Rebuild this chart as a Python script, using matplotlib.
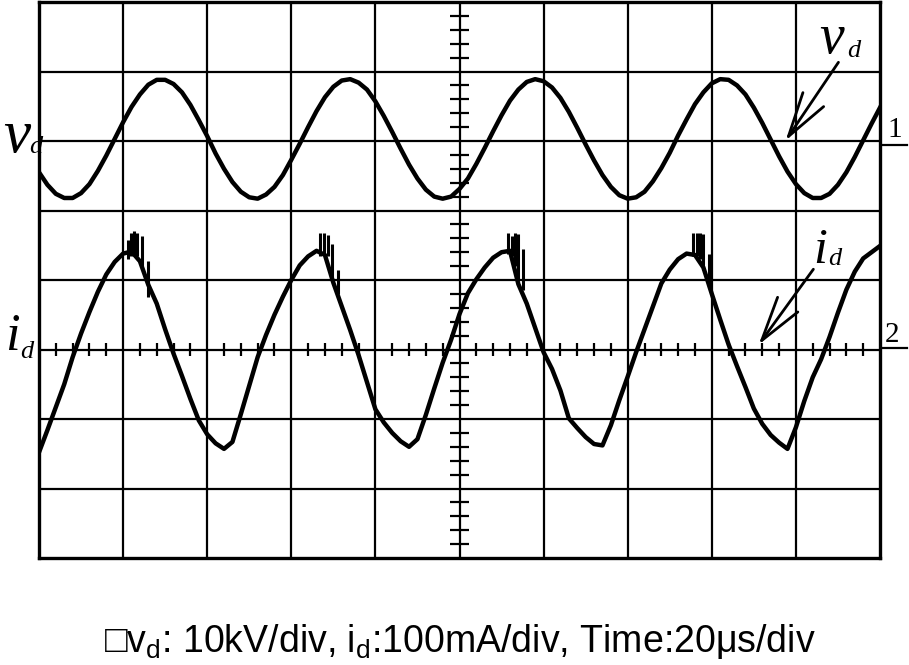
import numpy as np
import matplotlib
matplotlib.use("Agg")
from matplotlib import pyplot as plt
from matplotlib.lines import Line2D

# time axis, 20 us/div -> 10 divisions
t_us = np.arange(0, 201, 2)

# v_d in kV (10 kV/div), every 2 us
v_d = [-4.5, -6.3, -7.6, -8.2, -8.2, -7.5, -6.2, -4.3, -2.1, 0.3,
       2.7, 4.9, 6.7, 8.1, 8.8, 8.8, 8.2, 7.0, 5.2, 3.0,
       0.7, -1.8, -4.0, -5.9, -7.3, -8.1, -8.3, -7.7, -6.6, -4.9,
       -2.7, -0.4, 2.0, 4.3, 6.3, 7.8, 8.7, 8.9, 8.4, 7.4,
       5.7, 3.6, 1.3, -1.1, -3.4, -5.4, -7.0, -8.0, -8.3, -8.0,
       -6.9, -5.4, -3.3, -1.0, 1.4, 3.7, 5.8, 7.4, 8.5, 8.9,
       8.6, 7.7, 6.2, 4.2, 1.9, -0.5, -2.8, -4.9, -6.6, -7.8,
       -8.3, -8.1, -7.3, -5.8, -3.9, -1.7, 0.8, 3.1, 5.3, 7.0,
       8.3, 8.9, 8.8, 8.0, 6.7, 4.8, 2.6, 0.2, -2.2, -4.4,
       -6.2, -7.5, -8.2, -8.2, -7.6, -6.3, -4.5, -2.3, 0.1, 2.5,
       4.8]

# i_d in mA (100 mA/div)
i_d = [-148, -116, -83, -50, -11, 23, 54, 83, 108, 126,
       138, 141, 127, 93, 66, 29, -6, -38, -71, -102,
       -122, -135, -143, -133, -93, -52, -11, 21, 50, 76,
       100, 121, 134, 142, 136, 96, 62, 28, -8, -47,
       -86, -105, -120, -132, -140, -129, -94, -56, -19, 14,
       51, 81, 101, 118, 132, 140, 142, 94, 66, 31,
       -4, -28, -59, -99, -113, -126, -136, -138, -109, -73,
       -39, -4, 29, 62, 95, 115, 130, 138, 136, 118,
       80, 43, 7, -24, -54, -85, -107, -123, -134, -143,
       -112, -74, -40, -14, 18, 53, 86, 112, 131, 140,
       149]

# discharge spikes on top of i_d (time in us, bottom / top in mA)
spike_t = [21.2, 21.9, 22.6, 23.3, 24.5, 25.9,
           66.8, 67.8, 68.7, 69.7, 71.1,
           111.5, 112.5, 113.2, 113.9, 115.1,
           155.5, 156.5, 157.2, 157.9, 159.3]
spike_lo = [130, 135, 138, 135, 120, 75,
            135, 138, 135, 100, 80,
            138, 135, 120, 100, 85,
            135, 135, 130, 115, 90]
spike_hi = [158, 167, 170, 167, 164, 128,
            167, 167, 165, 152, 115,
            167, 164, 167, 166, 144,
            168, 167, 167, 166, 137]

v_scale = 10.0    # kV/div
i_scale = 100.0   # mA/div
t_scale = 20.0    # us/div
ch1_pos = 3       # channel 1 ground, divisions above channel 2

W, H = 909, 665
fig = plt.figure(figsize=(W / 100, H / 100), dpi=100)
ax = fig.add_axes([39 / W, 1 - 558 / H, (880 - 39) / W, (558 - 2) / H])
ax.set_xlim(0, 10)
ax.set_ylim(-3, 5)
ax.set_xticks([])
ax.set_yticks([])
for s in ax.spines.values():
    s.set_linewidth(2.4)
    s.set_color('black')

# graticule
for gx in range(1, 10):
    ax.axvline(gx, color='black', lw=1.6, zorder=1)
for gy in range(-2, 5):
    ax.axhline(gy, color='black', lw=1.6, zorder=1)

# minor ticks on the centre lines
tx = np.arange(0.2, 10, 0.2)
tx = tx[np.abs(tx - np.round(tx)) > 0.05]
ax.vlines(tx, -0.09, 0.09, color='black', lw=1.6, zorder=1)
ty = np.arange(-2.8, 5, 0.2)
ty = ty[np.abs(ty - np.round(ty)) > 0.05]
ax.hlines(ty, 5 - 0.11, 5 + 0.11, color='black', lw=1.6, zorder=1)

t_div = t_us / t_scale
ax.plot(t_div, np.array(v_d) / v_scale + ch1_pos, color='black', lw=3.2,
        solid_joinstyle='round', zorder=3)
ax.plot(t_div, np.array(i_d) / i_scale, color='black', lw=3.2,
        solid_joinstyle='round', zorder=3)
ax.vlines(np.array(spike_t) / t_scale, np.array(spike_lo) / i_scale,
          np.array(spike_hi) / i_scale, color='black', lw=2.2, zorder=3)


def px(x, y):
    # reference pixel -> figure fraction
    return x / W, 1 - y / H


serif = 'Liberation Serif'
fig.text(*px(3, 152), 'v', fontsize=44, family=serif, style='italic', va='baseline')
fig.text(*px(29, 153), 'd', fontsize=19, family=serif, style='italic', va='baseline')
fig.text(*px(5, 350), 'i', fontsize=38, family=serif, style='italic', va='baseline')
fig.text(*px(20, 358), 'd', fontsize=19, family=serif, style='italic', va='baseline')

fig.text(*px(819, 53), 'v', fontsize=40, family=serif, style='italic', va='baseline')
fig.text(*px(847, 57), 'd', fontsize=19, family=serif, style='italic', va='baseline')
fig.text(*px(813, 263), 'i', fontsize=36, family=serif, style='italic', va='baseline')
fig.text(*px(828, 265), 'd', fontsize=19, family=serif, style='italic', va='baseline')

# channel markers
fig.text(*px(887, 137), '1', fontsize=21, family=serif, va='baseline')
fig.text(*px(885, 342), '2', fontsize=21, family=serif, va='baseline')
for yy in (145, 348):
    x0, y0 = px(882, yy)
    x1, _ = px(907, yy)
    fig.add_artist(Line2D([x0, x1], [y0, y0], color='black', lw=1.6))

# pointer arrows
arrow = dict(arrowstyle='->,head_length=1.6,head_width=0.45', color='black', lw=2.0,
             mutation_scale=20)
ax.annotate('', xy=((784 - 39) / 84.1, (349.5 - 143) / 69.5),
            xytext=((840 - 39) / 84.1, (349.5 - 60) / 69.5), arrowprops=arrow)
ax.annotate('', xy=((757 - 39) / 84.1, (349.5 - 347) / 69.5),
            xytext=((815 - 39) / 84.1, (349.5 - 267) / 69.5), arrowprops=arrow)

# caption
fig.text(*px(460, 652),
         '\u25a1v$_\\mathregular{d}$: 10kV/div, i$_\\mathregular{d}$:100mA/div, Time:20\u03bcs/div',
         fontsize=27, family=['Liberation Sans', 'DejaVu Sans'], ha='center', va='baseline')

fig.savefig('out.png', dpi=100)
